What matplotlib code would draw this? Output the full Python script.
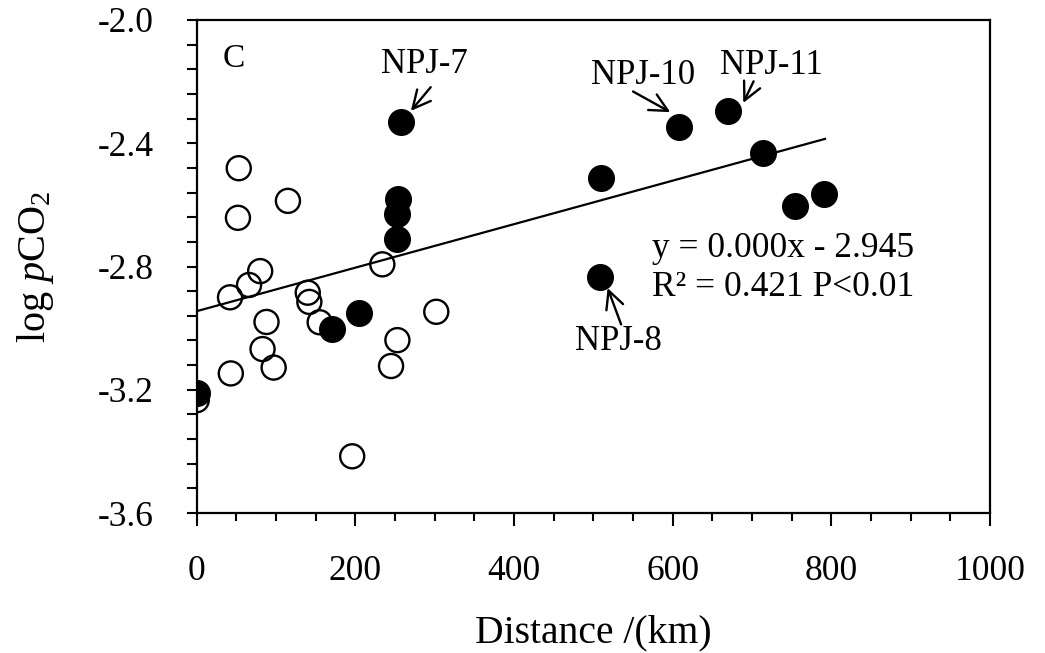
import matplotlib
matplotlib.use("Agg")
import matplotlib.pyplot as plt

plt.rcParams['font.family'] = ['Liberation Serif', 'DejaVu Serif']
plt.rcParams['mathtext.fontset'] = 'custom'
plt.rcParams['mathtext.rm'] = 'Liberation Serif'
plt.rcParams['mathtext.it'] = 'Liberation Serif:italic'

# open circles (distance km, log pCO2)
open_x = [53, 52, 115, 42, 66, 80, 88, 83, 97, 43, 140, 142, 155, 196, 234, 253, 245, 302, 0]
open_y = [-2.481, -2.642, -2.587, -2.900, -2.860, -2.815, -2.980, -3.068, -3.128, -3.147,
          -2.885, -2.915, -2.981, -3.416, -2.793, -3.039, -3.123, -2.947, -3.234]

# filled circles
fill_x = [1, 171, 204, 254, 252, 253, 258, 510, 509, 608, 670, 714, 754, 791]
fill_y = [-3.212, -3.004, -2.952, -2.582, -2.630, -2.712, -2.330, -2.512, -2.833,
          -2.346, -2.295, -2.431, -2.604, -2.566]

# regression line
slope = 0.000706
intercept = -2.945
fit_x = [0, 792]

# labelled sites: name, text position, arrow tail, arrow tip
labels = ['NPJ-7', 'NPJ-10', 'NPJ-11', 'NPJ-8']
label_pos = [(287, -2.143), (563, -2.179), (724, -2.149), (531, -3.045)]
arrow_tail = [(295, -2.218), (550, -2.232), (702, -2.199), (535, -2.988)]
arrow_tip = [(270, -2.295), (597, -2.299), (689, -2.269), (518, -2.870)]

fig = plt.figure(figsize=(10.45, 6.53), dpi=100)
ax = fig.add_axes([196.7 / 1045, 140 / 653, (990 - 196.7) / 1045, (513 - 20) / 653])

ax.scatter(open_x, open_y, s=300, facecolors='none', edgecolors='black', linewidths=1.7, zorder=2)
ax.plot(fit_x, [intercept + slope * v for v in fit_x], color='black', lw=1.6, zorder=3)
ax.scatter(fill_x, fill_y, s=340, facecolors='black', edgecolors='black', linewidths=1.0, zorder=4)

for name, pos, tail, tip in zip(labels, label_pos, arrow_tail, arrow_tip):
    ax.text(pos[0], pos[1], name, fontsize=25, ha='center', va='center')
    ax.annotate('', xy=tip, xytext=tail,
                arrowprops=dict(arrowstyle='->', lw=1.7, color='black', mutation_scale=32,
                                shrinkA=0, shrinkB=0))

ax.text(574, -2.740, 'y = 0.000x - 2.945', fontsize=25.5, ha='left', va='center')
ax.text(574, -2.867, 'R² = 0.421 P<0.01', fontsize=25.5, ha='left', va='center')
ax.text(47, -2.127, 'C', fontsize=24, ha='center', va='center')

ax.set_xlim(0, 1000)
ax.set_ylim(-3.6, -2.0)
ax.set_xticks([0, 200, 400, 600, 800, 1000])
ax.set_xticks(range(0, 1001, 50), minor=True)
ax.set_yticks([-3.6, -3.2, -2.8, -2.4, -2.0])
ax.set_yticks([-3.6 + 0.08 * i for i in range(21)], minor=True)
ax.set_yticklabels(['-3.6', '-3.2', '-2.8', '-2.4', '-2.0'])

ax.tick_params(axis='x', which='major', direction='out', length=9, width=1.5, labelsize=25.5, pad=21)
ax.tick_params(axis='x', which='minor', direction='out', length=6, width=1.5)
ax.tick_params(axis='y', which='both', direction='out', length=7, width=1.5, labelsize=25.5, pad=24)
for sp in ax.spines.values():
    sp.set_linewidth(1.6)

ax.set_xlabel('Distance /(km)', fontsize=28.5, labelpad=19)
ax.set_ylabel(r'log $\mathit{p}$CO$_2$', fontsize=29, labelpad=30)

fig.savefig('out.png', dpi=100)
